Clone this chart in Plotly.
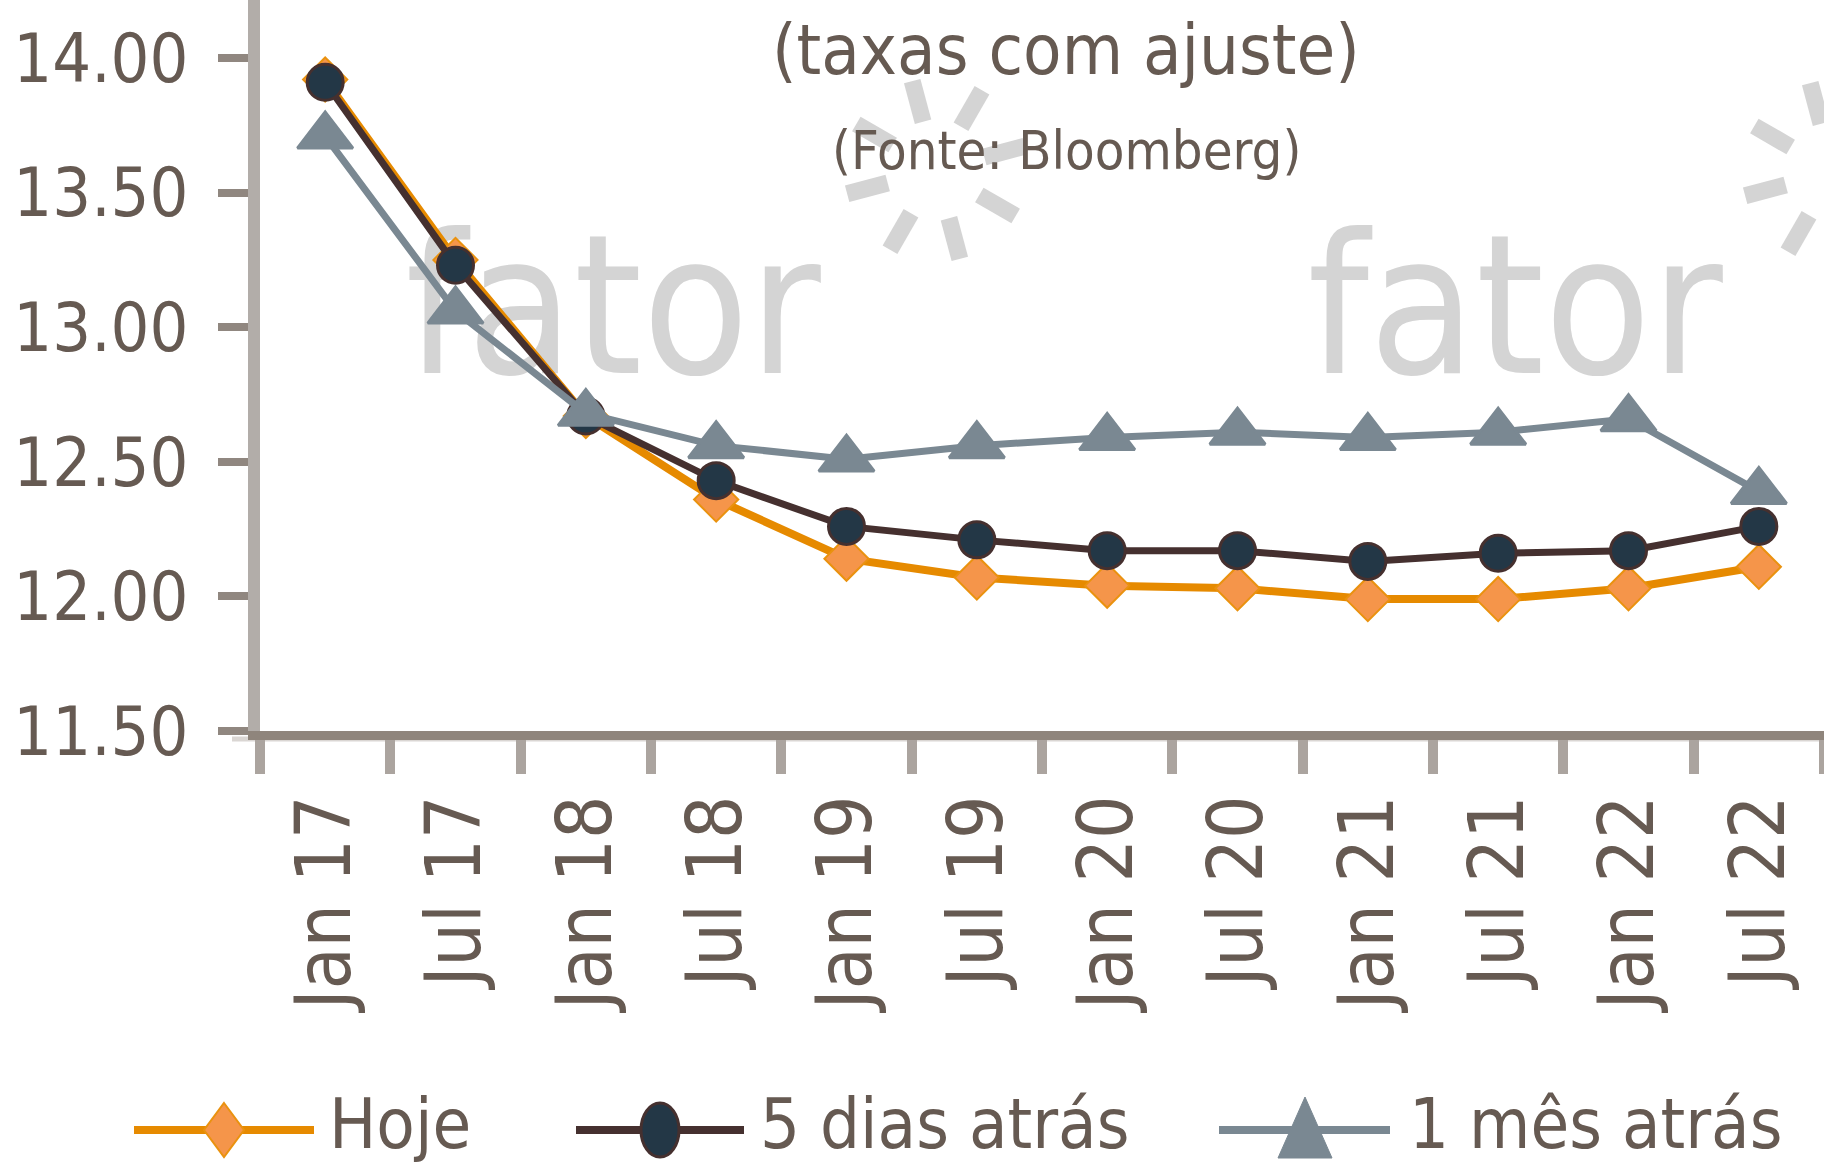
import math
import plotly.graph_objects as go

# ---------------- data ----------------
categories = ["Jan 17", "Jul 17", "Jan 18", "Jul 18", "Jan 19", "Jul 19",
              "Jan 20", "Jul 20", "Jan 21", "Jul 21", "Jan 22", "Jul 22"]
hoje = [13.92, 13.25, 12.67, 12.36, 12.14, 12.07, 12.04, 12.03, 11.99, 11.99, 12.03, 12.11]
cinco_dias = [13.91, 13.23, 12.67, 12.43, 12.26, 12.21, 12.17, 12.17, 12.13, 12.16, 12.17, 12.26]
um_mes = [13.71, 13.06, 12.68, 12.56, 12.51, 12.56, 12.59, 12.61, 12.59, 12.61, 12.66, 12.39]
series_names = ["Hoje", "5 dias atrás", "1 mês atrás"]
y_tick_values = [11.5, 12.0, 12.5, 13.0, 13.5, 14.0]
y_tick_labels = ["11.50", "12.00", "12.50", "13.00", "13.50", "14.00"]
title_text = "(taxas com ajuste)"
subtitle_text = "(Fonte: Bloomberg)"
watermark_text = "fator"

# ---------------- styling ----------------
FONT = "DejaVu Sans Condensed, DejaVu Sans, sans-serif"
TXT = "#665a52"
C_HOJE, C_HOJE_M = "#e68a00", "#f5954a"
C_5D, C_5D_M = "#45302f", "#233746"
C_1M = "#7a8892"
WM = "#d4d4d4"

W, H = 1824, 1168
L, R, T, B = 260, 0, 0, 437
PW, PH = W - L - R, H - T - B


def xp(px):
    return (px - L) / PW


def yp(py):
    return (T + PH - py) / PH


fig = go.Figure()

# watermark text on a hidden base axis (drawn beneath the data)
fig.add_trace(go.Scatter(
    x=[xp(613), xp(1515)], y=[yp(324), yp(324)], mode="text",
    text=[watermark_text, watermark_text],
    textfont=dict(family=FONT, size=194, color=WM),
    xaxis="x", yaxis="y", hoverinfo="skip", showlegend=False, cliponaxis=False))

# data series on the visible overlaying axes
fig.add_trace(go.Scatter(
    x=categories, y=hoje, name=series_names[0], mode="lines+markers",
    line=dict(color=C_HOJE, width=8),
    marker=dict(symbol="diamond", size=34, color=C_HOJE_M, line=dict(color="#ea920f", width=2)),
    xaxis="x2", yaxis="y2", cliponaxis=False))
fig.add_trace(go.Scatter(
    x=categories, y=cinco_dias, name=series_names[1], mode="lines+markers",
    line=dict(color=C_5D, width=7),
    marker=dict(symbol="circle", size=36, color=C_5D_M, line=dict(color=C_5D, width=3)),
    xaxis="x2", yaxis="y2", cliponaxis=False))
fig.add_trace(go.Scatter(
    x=categories, y=um_mes, name=series_names[2], mode="lines+markers",
    line=dict(color=C_1M, width=7),
    marker=dict(symbol="triangle-up", size=48, color=C_1M, line=dict(color=C_1M, width=3)),
    xaxis="x2", yaxis="y2", cliponaxis=False))

shapes = []
# sun-burst dashes of the watermark logo
for cx, cy in [(936, 170), (1834, 172)]:
    for k in range(8):
        a = math.radians(90 - k * 45 + 15)
        r0, r1 = 50, 92
        shapes.append(dict(type="line", xref="paper", yref="paper", layer="below",
                           x0=xp(cx + r0 * math.cos(a)), y0=yp(cy - r0 * math.sin(a)),
                           x1=xp(cx + r1 * math.cos(a)), y1=yp(cy - r1 * math.sin(a)),
                           line=dict(color=WM, width=17)))
# light under-band of the x axis line
shapes.append(dict(type="line", xref="paper", yref="paper", layer="below",
                   x0=xp(232), x1=1, y0=yp(739), y1=yp(739),
                   line=dict(color="#dad6d3", width=5)))

# manual legend
LY = 1130
leg = [(134, 314, 224, 331, C_HOJE), (576, 744, 660, 762, C_5D), (1219, 1390, 1305, 1411, C_1M)]
for (x0, x1, mx, tx, col), name in zip(leg, series_names):
    shapes.append(dict(type="line", xref="paper", yref="paper",
                       x0=xp(x0), x1=xp(x1), y0=yp(LY), y1=yp(LY),
                       line=dict(color=col, width=8)))
d = leg[0][2]
shapes.append(dict(type="path", xref="paper", yref="paper",
                   path=f"M{xp(d)},{yp(LY-27)} L{xp(d+20)},{yp(LY)} L{xp(d)},{yp(LY+27)} L{xp(d-20)},{yp(LY)} Z",
                   fillcolor=C_HOJE_M, line=dict(color="#ea920f", width=2)))
c = leg[1][2]
shapes.append(dict(type="circle", xref="paper", yref="paper",
                   x0=xp(c - 19), x1=xp(c + 19), y0=yp(LY + 27), y1=yp(LY - 27),
                   fillcolor=C_5D_M, line=dict(color=C_5D, width=3)))
t = leg[2][2]
shapes.append(dict(type="path", xref="paper", yref="paper",
                   path=f"M{xp(t)},{yp(LY-33)} L{xp(t+27)},{yp(LY+28)} L{xp(t-27)},{yp(LY+28)} Z",
                   fillcolor=C_1M, line=dict(color=C_1M, width=1)))

annotations = []
for (x0, x1, mx, tx, col), name in zip(leg, series_names):
    annotations.append(dict(text=name, xref="paper", yref="paper", x=xp(tx - 4), y=yp(LY - 6),
                            xanchor="left", yanchor="middle", showarrow=False,
                            font=dict(family=FONT, size=70, color=TXT)))
annotations.append(dict(text=title_text, xref="paper", yref="paper", x=xp(1066), y=yp(50),
                        xanchor="center", yanchor="middle", showarrow=False,
                        font=dict(family=FONT, size=70, color=TXT)))
annotations.append(dict(text=subtitle_text, xref="paper", yref="paper", x=xp(1066), y=yp(151),
                        xanchor="center", yanchor="middle", showarrow=False,
                        font=dict(family=FONT, size=54, color=TXT)))

fig.update_layout(
    width=W, height=H, margin=dict(l=L, r=R, t=T, b=B, pad=0, autoexpand=False),
    paper_bgcolor="white", plot_bgcolor="white", showlegend=False,
    shapes=shapes, annotations=annotations,
    xaxis=dict(domain=[0, 1], range=[0, 1], visible=False, fixedrange=True, automargin=False),
    yaxis=dict(domain=[0, 1], range=[0, 1], visible=False, fixedrange=True, automargin=False),
    xaxis2=dict(overlaying="x", anchor="y2", side="bottom", type="category", automargin=False,
                categoryorder="array", categoryarray=categories, range=[-0.5, 11.5],
                showline=True, linecolor="#8f857c", linewidth=9,
                ticks="outside", tickson="boundaries", ticklen=34, tickwidth=10, tickcolor="#aba49f",
                tickangle=-90, ticklabelstandoff=25,
                tickfont=dict(family=FONT, size=76, color=TXT), showgrid=False, zeroline=False),
    yaxis2=dict(overlaying="y", anchor="x2", side="left", automargin=False,
                range=[11.5, 14.0 + 58 / ((T + PH - 58) / 2.5)],
                tickvals=y_tick_values, ticktext=y_tick_labels,
                showline=True, linecolor="#b2ada9", linewidth=12,
                ticks="outside", ticklen=30, tickwidth=8, tickcolor="#908780",
                ticklabelstandoff=16,
                tickfont=dict(family=FONT, size=68, color=TXT), showgrid=False, zeroline=False),
)

fig.write_html("out.html", config={"displayModeBar": False},
               post_script="document.body.style.margin='0px';")
